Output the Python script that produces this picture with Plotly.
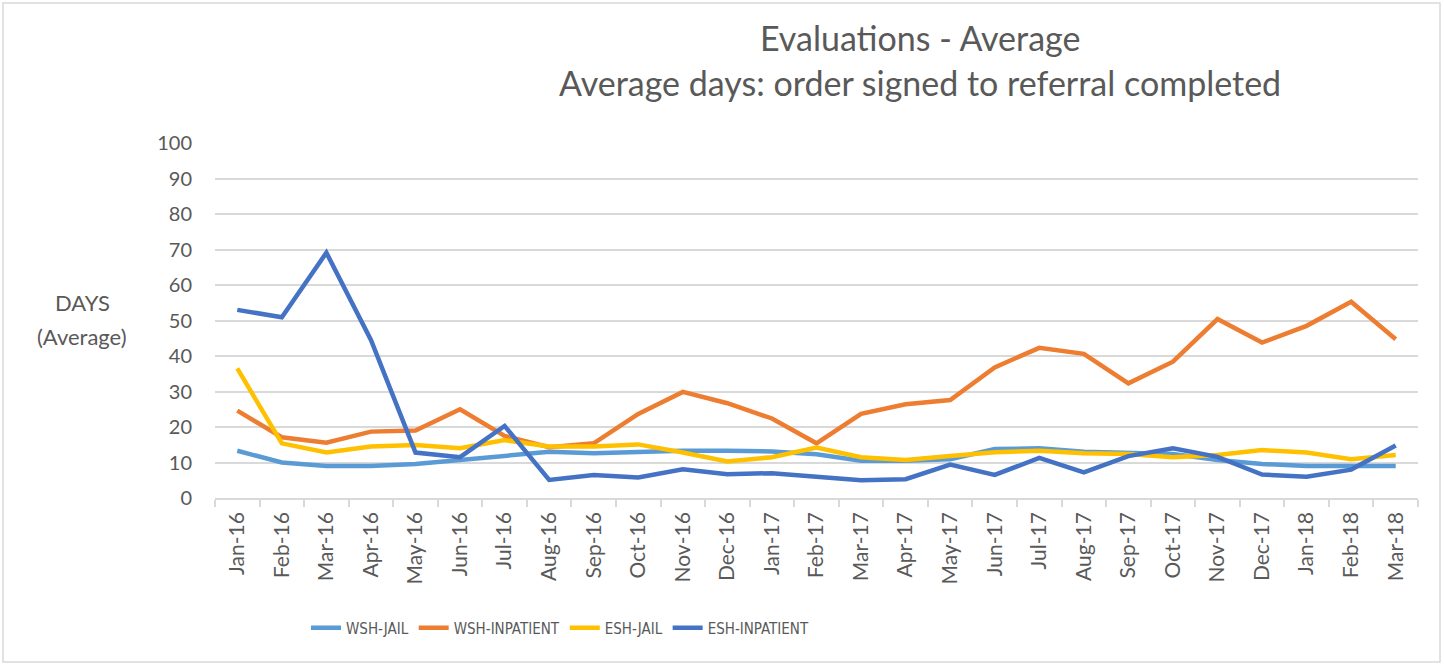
import plotly.graph_objects as go

months = ["Jan-16", "Feb-16", "Mar-16", "Apr-16", "May-16", "Jun-16", "Jul-16", "Aug-16", "Sep-16",
          "Oct-16", "Nov-16", "Dec-16", "Jan-17", "Feb-17", "Mar-17", "Apr-17", "May-17", "Jun-17",
          "Jul-17", "Aug-17", "Sep-17", "Oct-17", "Nov-17", "Dec-17", "Jan-18", "Feb-18", "Mar-18"]

wsh_jail = [13.3, 10.0, 9.0, 9.0, 9.6, 10.7, 12.1, 13.0, 12.6,
            13.1, 13.3, 13.3, 13.1, 12.3, 10.5, 10.5, 10.9, 13.8,
            14.0, 13.0, 12.6, 12.4, 10.7, 9.6, 9.0, 9.0, 9.0]

wsh_inpatient = [24.6, 17.1, 15.6, 18.7, 19.0, 25.0, 17.5, 14.3, 15.4,
                 23.7, 29.9, 26.7, 22.4, 15.4, 23.7, 26.4, 27.6, 36.8,
                 42.3, 40.6, 32.3, 38.4, 50.4, 43.8, 48.5, 55.3, 44.7]

esh_jail = [36.5, 15.4, 12.8, 14.5, 14.9, 14.0, 16.3, 14.5, 14.5,
            15.1, 12.8, 10.3, 11.5, 14.2, 11.5, 10.7, 11.8, 12.9,
            13.3, 12.6, 12.4, 11.5, 12.1, 13.5, 12.8, 10.9, 12.1]

esh_inpatient = [53.0, 50.9, 69.1, 44.5, 12.8, 11.5, 20.3, 5.1, 6.5,
                 5.8, 8.1, 6.7, 7.0, 6.0, 5.0, 5.3, 9.4, 6.5,
                 11.3, 7.2, 11.8, 14.0, 11.6, 6.6, 6.0, 8.0, 14.8]

series = [
    ("WSH-JAIL", wsh_jail, "#5B9BD5"),
    ("WSH-INPATIENT", wsh_inpatient, "#ED7D31"),
    ("ESH-JAIL", esh_jail, "#FFC000"),
    ("ESH-INPATIENT", esh_inpatient, "#4472C4"),
]

FONT = "Lato, 'Open Sans', sans-serif"
NARROW = "'DejaVu Sans Condensed', Lato, sans-serif"
TXT = "#595959"
GRID = "#d9d9d9"

fig = go.Figure()
for name, vals, color in series:
    fig.add_trace(go.Scatter(x=months, y=vals, name=name, mode="lines",
                             line=dict(color=color, width=4.5, shape="linear"),
                             hoverinfo="x+y+name"))

def py(v):
    return (498 - v) / 355

def px(v):
    return (v - 215) / 1203

fig.update_layout(
    width=1444, height=667,
    margin=dict(l=215, r=26, t=143, b=169),
    paper_bgcolor="white", plot_bgcolor="white",
    font=dict(family=FONT, color=TXT, size=19),
    showlegend=True,
    legend=dict(orientation="h", x=px(560), xanchor="center", y=py(628), yanchor="middle",
                font=dict(size=15, color=TXT, family=NARROW), itemwidth=30, traceorder="normal"),
    xaxis=dict(type="category", tickangle=-90, tickson="boundaries",
               ticks="outside", ticklen=7, tickcolor=GRID, tickwidth=1.5,
               showline=True, linecolor=GRID, linewidth=1.5, ticklabelstandoff=4,
               showgrid=False, tickfont=dict(size=21, color=TXT), range=[-0.5, 26.5]),
    yaxis=dict(range=[0, 100], dtick=10, showgrid=True, gridcolor=GRID, gridwidth=1.5,
               zeroline=False, showline=False, ticks="", ticklabelstandoff=22,
               tickfont=dict(size=20, color=TXT)),
    annotations=[
        dict(text="Evaluations - Average", xref="paper", yref="paper",
             x=px(920), y=py(38), xanchor="center", yanchor="middle",
             showarrow=False, font=dict(size=34, color=TXT, family=FONT)),
        dict(text="Average days: order signed to referral completed", xref="paper", yref="paper",
             x=px(920), y=py(82), xanchor="center", yanchor="middle",
             showarrow=False, font=dict(size=34, color=TXT, family=FONT)),
        dict(text="DAYS", xref="paper", yref="paper",
             x=px(82), y=py(302), xanchor="center", yanchor="middle",
             showarrow=False, font=dict(size=22, color=TXT, family=FONT)),
        dict(text="(Average)", xref="paper", yref="paper",
             x=px(82), y=py(336), xanchor="center", yanchor="middle",
             showarrow=False, font=dict(size=22, color=TXT, family=FONT)),
    ],
    shapes=[
        dict(type="rect", xref="paper", yref="paper",
             x0=px(3), x1=px(1440), y0=py(662), y1=py(3),
             line=dict(color=GRID, width=1.5), fillcolor="rgba(0,0,0,0)", layer="below"),
    ],
)

fig.write_html("out.html", config={"displayModeBar": False},
               post_script="document.body.style.margin='0';document.body.style.overflow='hidden';")
